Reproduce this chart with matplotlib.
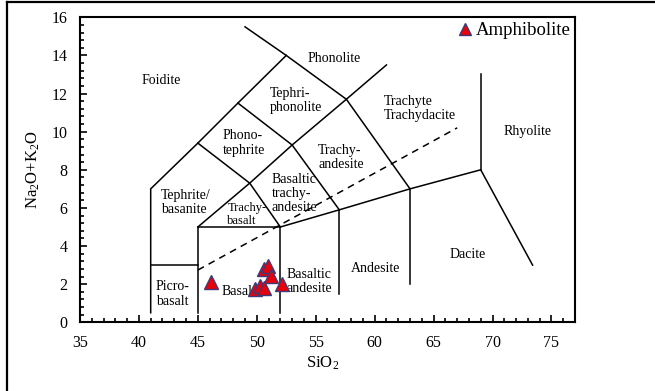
import matplotlib
matplotlib.use('Agg')
import matplotlib.pyplot as plt
from matplotlib.lines import Line2D
from matplotlib.ticker import MultipleLocator

plt.rcParams['font.family'] = ['Liberation Serif', 'DejaVu Serif']
plt.rcParams['mathtext.fontset'] = 'custom'
plt.rcParams['mathtext.rm'] = 'Liberation Serif'
plt.rcParams['mathtext.it'] = 'Liberation Serif:italic'

# TAS field boundaries (SiO2, Na2O+K2O)
foidite_line = [(41, 0.5), (41, 7), (45, 9.4), (48.4, 11.5), (52.5, 14)]
phonolite_line = [(49, 15.5), (52.5, 14), (57.6, 11.7), (63, 7), (69, 8), (73.4, 3)]
picro_line = [(41, 3), (45, 3)]
basalt_line = [(45, 0.5), (45, 5), (52, 5), (52, 0.5)]
bas_and_line = [(52, 5), (57, 5.9), (63, 7)]
andesite_left = [(57, 1.5), (57, 5.9)]
andesite_right = [(63, 2), (63, 7)]
rhyolite_line = [(69, 8), (69, 13)]
trachy_line = [(45, 5), (49.4, 7.3), (53, 9.3), (57.6, 11.7), (61, 13.5)]
tephrite_line = [(52, 5), (49.4, 7.3), (45, 9.4)]
phonotep_line = [(57, 5.9), (53, 9.3), (48.4, 11.5)]
boundaries = [foidite_line, phonolite_line, picro_line, basalt_line, bas_and_line,
              andesite_left, andesite_right, rhyolite_line, trachy_line,
              tephrite_line, phonotep_line]
alkaline_line = [(45, 2.74), (67, 10.2)]

# field names (left edge, vertical centre)
fields = [
    ("Foidite", 40.2, 12.68, 10),
    ("Phonolite", 54.3, 13.85, 10),
    ("Tephri-\nphonolite", 51.1, 11.64, 10),
    ("Phono-\ntephrite", 47.1, 9.41, 10),
    ("Trachy-\nandesite", 55.2, 8.65, 10),
    ("Basaltic\ntrachy-\nandesite", 51.24, 6.77, 10),
    ("Tephrite/\nbasanite", 41.9, 6.29, 10),
    ("Trachy-\nbasalt", 47.5, 5.66, 9),
    ("Trachyte\nTrachydacite", 60.76, 11.2, 10),
    ("Rhyolite", 70.96, 10.0, 10),
    ("Picro-\nbasalt", 41.44, 1.48, 10),
    ("Basalt", 47.0, 1.64, 10),
    ("Basaltic\nandesite", 52.5, 2.12, 10),
    ("Andesite", 57.97, 2.83, 10),
    ("Dacite", 66.36, 3.58, 10),
]

# amphibolite samples
sio2 = [46.1, 50.59, 50.98, 51.18, 52.15, 49.86, 50.28, 50.64]
alk = [2.10, 2.78, 2.95, 2.43, 1.99, 1.75, 1.90, 1.78]

fig = plt.figure(figsize=(6.55, 3.91), dpi=100)
ax = fig.add_axes([0.1221, 0.1757, 0.7558, 0.7801])

for seg in boundaries:
    xs, ys = zip(*seg)
    ax.plot(xs, ys, color='black', lw=1.1, solid_joinstyle='miter')
xs, ys = zip(*alkaline_line)
ax.plot(xs, ys, color='black', lw=1.1, linestyle=(0, (4.5, 3.5)))

for name, x, y, fs in fields:
    ax.text(x, y, name, fontsize=fs, ha='left', va='center', linespacing=1.12)

ax.plot(sio2, alk, linestyle='none', marker='^', markersize=10,
        markerfacecolor='#e8000b', markeredgecolor='#3c3c78', markeredgewidth=1.0,
        label='Amphibolite', zorder=5)

ax.legend(loc='upper right', frameon=False, fontsize=13.5, handlelength=0.6,
          handletextpad=0.25, borderaxespad=0.0, borderpad=0.25, markerscale=0.9)

ax.set_xlim(35, 77)
ax.set_ylim(0, 16)
ax.xaxis.set_major_locator(MultipleLocator(5))
ax.xaxis.set_minor_locator(MultipleLocator(1))
ax.yaxis.set_major_locator(MultipleLocator(2))
ax.yaxis.set_minor_locator(MultipleLocator(0.4))
ax.tick_params(which='both', direction='in', top=False, right=False, width=1.2)
ax.tick_params(which='major', length=5, labelsize=11.5, pad=9)
ax.tick_params(which='minor', length=3)
for s in ax.spines.values():
    s.set_linewidth(1.5)

ax.set_xlabel('SiO$_2$', fontsize=12)
ax.set_ylabel('Na$_2$O+K$_2$O', fontsize=12)
ax.xaxis.set_label_coords(0.49, -0.105)
ax.yaxis.set_label_coords(-0.077, 0.5)

# outer table-cell frame
fig.add_artist(Line2D([7 / 655, 7 / 655], [0, 1 - 2 / 391], transform=fig.transFigure,
                      color='black', lw=1.6))
fig.add_artist(Line2D([7 / 655, 1], [1 - 2 / 391, 1 - 2 / 391], transform=fig.transFigure,
                      color='black', lw=1.6))

fig.savefig('out.png', dpi=100)
